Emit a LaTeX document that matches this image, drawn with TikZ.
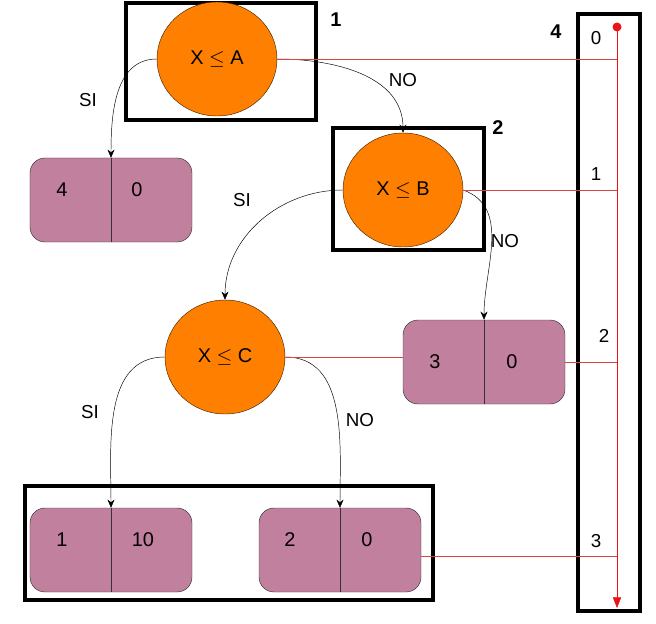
\documentclass[tikz,border=0pt]{standalone}
\usepackage{fontspec}
\setmainfont{Liberation Sans}
\usetikzlibrary{shapes.geometric,arrows.meta}
\definecolor{nodeorange}{RGB}{255,128,0}
\definecolor{leafmauve}{RGB}{192,128,158}
\definecolor{linkred}{RGB}{214,70,70}
\definecolor{trackred}{RGB}{232,20,24}
\tikzset{
  test/.style={ellipse,draw=black!70!orange,fill=nodeorange,minimum width=3.6cm,minimum height=3.42cm,font=\fontsize{17}{20}\selectfont},
  leaf/.style={draw=black!80,fill=leafmauve,rounded corners=0.45cm,minimum width=4.86cm,minimum height=2.52cm},
  frame/.style={draw,line width=4pt},
  num/.style={font=\fontsize{17}{20}\selectfont},
  lab/.style={font=\fontsize{16}{19}\selectfont},
  tag/.style={font=\bfseries\fontsize{17}{20}\selectfont},
  branch/.style={->,black},
  link/.style={linkred,line width=0.6pt}
}
\begin{document}
\begin{tikzpicture}[>={Stealth[length=7pt,width=6pt]},x=0.03cm,y=-0.03cm]
	\useasboundingbox (0,0) rectangle (656,623);
	%Cuadros
	\draw[frame] (126,3) rectangle (316,120);
	\draw[frame] (333,128) rectangle (484,250);
	\draw[frame] (25,486) rectangle (433,600);
	\draw[frame] (578,14) rectangle (640,611);
	\node[tag] (t1) at (336,20) {1};
	\node[tag] (t2) at (498,128) {2};
	\node[tag] (t4) at (556,32) {4};
	%Nodos
	\node[test] (A) at (217,59) {X $\le$ A};
	\node[test] (B) at (403,190) {X $\le$ B};
	\node[test] (C) at (225,357) {X $\le$ C};
	%Hojas
	\node[leaf] (L1) at (111,200) {};
	\node[leaf] (L2) at (484,362) {};
	\node[leaf] (L3) at (111,550) {};
	\node[leaf] (L4) at (340,550) {};
	\foreach \l in {L1,L2,L3,L4}
		\draw[black!80] (\l.north) -- (\l.south);
	\node[num] at (62,190) {4};
	\node[num] at (137,190) {0};
	\node[num] at (435,362) {3};
	\node[num] at (512,362) {0};
	\node[num] at (62,540) {1};
	\node[num] at (143,540) {10};
	\node[num] at (290,540) {2};
	\node[num] at (367,540) {0};
	%Ramas
	\draw[branch] (A.west) to[out=180,in=90] (L1.north);
	\draw[branch] (A.east) to[out=0,in=90] (B.north);
	\draw[branch] (B.west) to[out=180,in=90] (C.north);
	\draw[branch] (B.east) to[out=-20,in=90] (L2.north);
	\draw[branch] (C.west) to[out=180,in=90] (L3.north);
	\draw[branch] (C.east) to[out=0,in=90] (L4.north);
	\node[lab] at (88,100) {SI};
	\node[lab] at (403,80) {NO};
	\node[lab] at (242,200) {SI};
	\node[lab] at (505,241) {NO};
	\node[lab] at (90,412) {SI};
	\node[lab] at (360,420) {NO};
	%Niveles
	\coordinate (top) at (617,27);
	\coordinate (bot) at (617,608);
	\draw[trackred,-{Triangle[length=9pt,width=7pt]}] (top) -- (bot);
	\fill[trackred] (top) circle (4.5);
	\draw[link] (A.east) -- (A.east -| top);
	\draw[link] (B.east) -- (B.east -| top);
	\draw[link] (C.east) -- (C.east -| L2.west);
	\draw[link] (L2.east) -- (L2.east -| top);
	\draw[link] ([yshift=-0.2cm]L4.east) -- ([yshift=-0.2cm]L4.east -| top);
	\node[lab] at (596,38) {0};
	\node[lab] at (596,174) {1};
	\node[lab] at (604,336) {2};
	\node[lab] at (596,541) {3};
\end{tikzpicture}
\end{document}
